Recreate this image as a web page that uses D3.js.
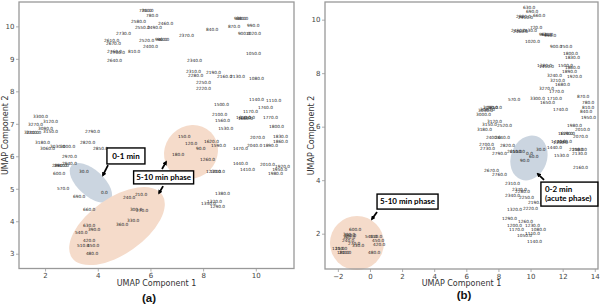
<!DOCTYPE html>
<html><head><meta charset="utf-8">
<script src="https://cdn.jsdelivr.net/npm/d3@7"></script>
<style>body{margin:0;background:#fff}svg{display:block}</style>
</head><body>
<svg id="c" width="602" height="307"></svg>
<script>
// ---------- Panel (a) data ----------
const aTimes = ["730.0","750.0","780.0","2580.0","2460.0","2550.0","2490.0","2730.0","2520.0","940.0","960.0","2400.0","2610.0","2670.0","2760.0","2700.0","810.0","2640.0","2370.0","840.0","930.0","880.0","870.0","990.0","900.0","1020.0","1050.0","2340.0","2310.0","2280.0","2190.0","2160.0","2130.0","1080.0","2250.0","2220.0","1140.0","1110.0","1500.0","1740.0","1170.0","2100.0","1560.0","1650.0","1680.0","1710.0","1770.0","1530.0","1800.0","2070.0","1830.0","1860.0","150.0","120.0","90.0","1620.0","1590.0","1470.0","2040.0","1890.0","180.0","1260.0","1440.0","2010.0","1920.0","1410.0","1950.0","1980.0","1230.0","1200.0","1380.0","1320.0","1350.0","1290.0","3300.0","3120.0","3270.0","3090.0","3240.0","3210.0","3150.0","2790.0","3180.0","2820.0","3060.0","3030.0","3000.0","2850.0","2970.0","2880.0","2910.0","2940.0","600.0","30.0","570.0","0.0","690.0","240.0","210.0","660.0","300.0","270.0","330.0","360.0","630.0","390.0","540.0","420.0","510.0","450.0","480.0"];
const aX = [5.57,5.65,5.83,5.26,6.29,5.41,5.87,4.69,5.57,6.17,6.25,5.72,4.24,4.31,4.35,4.465,5.15,4.35,7.08,8.11,9.17,9.25,8.94,9.67,9.32,9.63,9.63,7.39,7.35,7.43,8.11,8.53,9.02,9.74,7.73,7.73,9.74,10.39,8.41,10.08,9.51,8.34,8.45,9.25,9.32,9.40,10.27,8.57,10.50,9.78,10.65,10.65,7.05,7.31,7.73,8.03,8.30,9.13,9.67,10.27,6.82,7.88,9.13,10.16,10.73,9.40,10.62,10.46,8.11,8.26,8.45,8.15,7.92,8.26,1.54,1.92,1.35,1.73,1.20,1.28,1.92,3.515,1.62,3.33,1.81,2.19,2.57,3.82,2.64,2.26,2.34,2.64,2.30,3.29,2.45,4.12,3.06,4.96,5.41,3.44,5.22,5.45,5.11,4.69,3.44,3.63,3.14,3.44,3.21,3.59,3.55];
const aY = [10.50,10.49,10.32,10.165,10.10,9.95,9.95,9.765,9.58,9.61,9.60,9.395,9.55,9.46,9.24,9.21,9.24,8.96,9.73,9.89,10.23,10.23,10.01,10.04,9.765,9.765,9.15,8.96,8.595,8.50,8.565,8.47,8.47,8.38,8.26,8.10,7.76,7.73,7.58,7.49,7.39,7.30,7.09,7.18,7.165,7.18,7.18,6.87,6.93,6.59,6.62,6.47,6.62,6.38,6.255,6.47,6.32,6.255,6.32,6.32,6.04,5.89,5.79,5.76,5.70,5.58,5.58,5.455,5.52,5.52,4.84,4.62,4.56,4.44,7.21,7.056,6.99,6.87,6.72,6.72,6.75,6.75,6.41,6.41,6.255,6.29,6.29,6.255,5.98,5.73,5.73,5.79,5.455,5.52,5.02,4.90,4.75,4.72,4.81,4.35,4.35,4.32,4.01,3.915,3.88,3.76,3.64,3.42,3.24,3.24,3.02];
const aXTicks = [2,4,6,8,10];
const aYTicks = [3,4,5,6,7,8,9,10];
const aXDomain = [1.01,11.45];
const aYDomain = [2.545,10.75];

// ---------- Panel (b) data ----------
const bTimes = ["630.0","690.0","660.0","2880.0","2910.0","720.0","2490.0","2460.0","2430.0","960.0","930.0","990.0","1020.0","900.0","750.0","1800.0","1830.0","1380.0","1410.0","1500.0","1860.0","1890.0","3240.0","1920.0","3210.0","1680.0","3270.0","1770.0","570.0","3300.0","1710.0","1650.0","870.0","780.0","810.0","1740.0","840.0","3030.0","3060.0","3090.0","2850.0","3000.0","1950.0","3120.0","3150.0","2520.0","3180.0","1980.0","2010.0","1620.0","1590.0","2070.0","2400.0","2640.0","1470.0","1350.0","1560.0","1440.0","2700.0","2820.0","2730.0","2580.0","2790.0","2610.0","2550.0","0.0","30.0","60.0","90.0","1530.0","2100.0","2130.0","2160.0","2670.0","2760.0","2310.0","2370.0","2280.0","2340.0","2250.0","2190.0","2220.0","1320.0","1290.0","1260.0","1200.0","1230.0","1170.0","1080.0","1110.0","1050.0","1140.0","600.0","300.0","390.0","360.0","240.0","540.0","510.0","270.0","330.0","450.0","420.0","120.0","150.0","180.0","210.0","480.0"];
const bX = [9.53,9.72,10.15,9.09,9.22,9.96,8.78,8.91,9.47,10.53,10.65,10.84,9.65,11.21,11.83,12.02,12.14,10.40,10.53,11.71,12.14,11.96,11.02,12.27,11.21,11.52,10.53,11.15,8.59,9.96,11.02,10.59,12.89,13.20,13.20,11.40,13.08,6.73,6.85,7.04,7.29,6.60,13.14,7.29,6.98,7.91,6.66,12.27,12.77,11.71,11.83,12.64,7.22,7.78,11.27,11.40,11.65,11.02,6.79,8.10,6.85,12.58,7.60,8.53,8.72,9.72,10.34,9.90,9.34,11.46,12.39,12.58,12.64,7.10,7.60,8.41,8.84,9.03,8.41,9.28,9.84,9.53,8.53,8.22,9.22,8.53,9.65,8.66,10.03,9.65,9.16,9.78,-1.31,-1.68,-1.62,-1.68,-1.74,-0.31,0.0,-1.37,-1.12,0.125,0.19,-2.36,-2.18,-2.05,-1.93,-0.12];
const bY = [10.44,10.29,10.17,10.10,10.08,9.725,9.58,9.56,9.61,9.46,9.445,9.39,9.20,9.015,8.98,8.75,8.60,8.27,8.25,8.27,8.23,8.08,7.93,7.89,7.71,7.56,7.41,7.30,7.00,7.07,7.07,6.885,7.11,6.885,6.735,6.66,6.55,6.62,6.66,6.70,6.735,6.47,6.36,6.21,6.10,6.06,5.91,6.06,5.91,5.76,5.74,5.65,5.61,5.58,5.43,5.41,5.43,5.24,5.35,5.28,5.18,5.165,5.015,5.09,5.07,5.015,5.13,4.90,4.72,4.94,5.165,5.015,4.49,4.38,4.23,3.89,3.67,3.56,3.41,3.37,3.15,2.96,2.92,2.585,2.47,2.32,2.29,2.175,2.155,2.02,1.95,1.72,2.175,1.987,1.95,1.84,1.76,1.91,1.91,1.65,1.575,1.76,1.61,1.46,1.45,1.315,1.30,1.315];
const bXTicks = [-2,0,2,4,6,8,10,12,14];
const bYTicks = [2,4,6,8,10];
const bXDomain = [-2.8,14.2];
const bYDomain = [0.68,10.66];

// ---------- annotations (data coordinates) ----------
const BLUE = "#cbd5e0", ORANGE = "#f5dbca";
const aEllipses = [
  {cx:3.74, cy:5.18, rx:26, ry:13, rot:42, fill:BLUE},
  {cx:4.73, cy:3.85, rx:55, ry:28, rot:-35, fill:ORANGE},
  {cx:7.54, cy:6.13, rx:28, ry:26, rot:-45, fill:ORANGE}
];
const bEllipses = [
  {cx:9.90, cy:4.83, rx:23, ry:18, rot:-70, fill:BLUE},
  {cx:-0.81, cy:1.65, rx:27, ry:27, rot:0, fill:ORANGE}
];
const aBoxes = [
  {cx:5.07, cy:6.01, w:38, h:16, lines:["0-1 min"]},
  {cx:6.50, cy:5.35, w:60, h:13, lines:["5-10 min phase"]}
];
const bBoxes = [
  {cx:2.34, cy:3.20, w:61, h:15, lines:["5-10 min phase"]},
  {cx:12.42, cy:3.48, w:57, h:24, lines:["0-2 min","(acute phase)"]}
];
const aArrows = [
  {x1:4.39, y1:5.73, x2:4.20, y2:5.42},
  {x1:6.44, y1:5.61, x2:6.59, y2:5.82},
  {x1:6.48, y1:5.08, x2:6.33, y2:4.87}
];
const bArrows = [
  {x1:0.44, y1:2.81, x2:0.13, y2:2.55},
  {x1:10.84, y1:4.01, x2:10.46, y2:4.23}
];

const svg = d3.select("#c");
svg.append("defs").append("marker")
  .attr("id","ah").attr("viewBox","0 0 10 10").attr("refX",6).attr("refY",5)
  .attr("markerWidth",2.6).attr("markerHeight",2.6).attr("orient","auto")
  .append("path").attr("d","M0,0 L10,5 L0,10 z").attr("fill","#000");

function drawPanel(cfg){
  const x = d3.scaleLinear().domain(cfg.xDomain).range([cfg.left, cfg.right]);
  const y = d3.scaleLinear().domain(cfg.yDomain).range([cfg.bottom, cfg.top]);
  const g = svg.append("g");

  g.selectAll("ellipse").data(cfg.ellipses).join("ellipse")
    .attr("rx", d=>d.rx).attr("ry", d=>d.ry)
    .attr("transform", d=>`translate(${x(d.cx)},${y(d.cy)}) rotate(${d.rot})`)
    .attr("fill", d=>d.fill);

  g.append("g").selectAll("text").data(cfg.times).join("text")
    .attr("x", (d,i)=>x(cfg.xs[i])).attr("y", (d,i)=>y(cfg.ys[i]))
    .attr("dy","0.35em")
    .attr("font-family","DejaVu Sans").attr("font-size",4.3).attr("fill","#222")
    .text(d=>d);

  const fmt = d3.format("d");
  const xa = g.append("g").attr("transform",`translate(0,${cfg.bottom})`)
    .call(d3.axisBottom(x).tickValues(cfg.xTicks).tickSize(3).tickPadding(2).tickFormat(fmt));
  const ya = g.append("g").attr("transform",`translate(${cfg.left},0)`)
    .call(d3.axisLeft(y).tickValues(cfg.yTicks).tickSize(3).tickPadding(1.5).tickFormat(fmt));
  [xa,ya].forEach(a=>{
    a.select(".domain").remove();
    a.selectAll(".tick line").attr("stroke","#999").attr("stroke-width",0.8);
    a.selectAll(".tick text").attr("font-family","DejaVu Sans").attr("font-size",7).attr("fill","#444");
  });

  g.append("rect").attr("x",cfg.left).attr("y",cfg.top)
    .attr("width",cfg.right-cfg.left).attr("height",cfg.bottom-cfg.top)
    .attr("fill","none").attr("stroke","#999").attr("stroke-width",1.3);

  g.append("text").attr("x",(cfg.left+cfg.right)/2).attr("y",286)
    .attr("text-anchor","middle").attr("font-family","DejaVu Sans").attr("font-size",8).attr("fill","#333")
    .text("UMAP Component 1");
  g.append("text").attr("transform",`translate(${cfg.ylabX},${(cfg.top+cfg.bottom)/2}) rotate(-90)`)
    .attr("text-anchor","middle").attr("font-family","DejaVu Sans").attr("font-size",8).attr("fill","#333")
    .text("UMAP Component 2");
  g.append("text").attr("x",cfg.letterX).attr("y",cfg.letterY)
    .attr("text-anchor","middle").attr("font-family","Liberation Sans").attr("font-weight","bold")
    .attr("font-size",11.5).attr("fill","#111").text(cfg.letter);

  cfg.arrows.forEach(a=>{
    g.append("line").attr("x1",x(a.x1)).attr("y1",y(a.y1)).attr("x2",x(a.x2)).attr("y2",y(a.y2))
      .attr("stroke","#000").attr("stroke-width",1.8).attr("marker-end","url(#ah)");
  });

  cfg.boxes.forEach(b=>{
    const cx = x(b.cx), cy = y(b.cy);
    g.append("rect").attr("x",cx-b.w/2).attr("y",cy-b.h/2).attr("width",b.w).attr("height",b.h)
      .attr("fill","#fff").attr("stroke","#000").attr("stroke-width",1.4);
    const n = b.lines.length, lh = 9;
    b.lines.forEach((t,i)=>{
      g.append("text").attr("x", n>1 ? cx-b.w/2+4 : cx)
        .attr("y", cy + (i-(n-1)/2)*lh).attr("dy","0.35em")
        .attr("text-anchor", n>1 ? "start" : "middle")
        .attr("font-family","Lato").attr("font-weight","bold").attr("font-size",8).attr("fill","#000")
        .text(t);
    });
  });
}

drawPanel({left:19,right:294,top:2,bottom:268.5,xDomain:aXDomain,yDomain:aYDomain,
  xTicks:aXTicks,yTicks:aYTicks,times:aTimes,xs:aX,ys:aY,ellipses:aEllipses,boxes:aBoxes,arrows:aArrows,
  ylabX:8,letter:"(a)",letterX:149,letterY:302});
drawPanel({left:325,right:598,top:2,bottom:269,xDomain:bXDomain,yDomain:bYDomain,
  xTicks:bXTicks,yTicks:bYTicks,times:bTimes,xs:bX,ys:bY,ellipses:bEllipses,boxes:bBoxes,arrows:bArrows,
  ylabX:314,letter:"(b)",letterX:464,letterY:299});
</script>
</body></html>
